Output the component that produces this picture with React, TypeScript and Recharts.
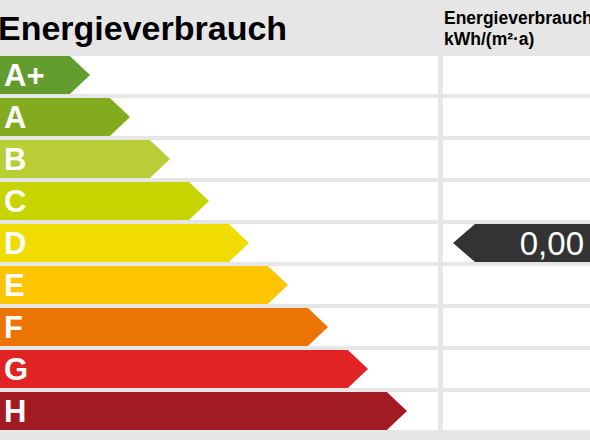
import { BarChart, Bar, XAxis, YAxis, LabelList, ReferenceArea, Customized } from 'recharts';

const classes = ['A+', 'A', 'B', 'C', 'D', 'E', 'F', 'G', 'H'];
const arrowEnds = [90, 130, 170, 209, 249, 288, 328, 368, 407];
const classColors = ['#629b2e', '#82ab1f', '#b8cd36', '#c8d400', '#f0dc00', '#fdc500', '#ec7405', '#e22323', '#a21b23'];
const currentClass = 'D';
const currentValue = '0,00';
const title = 'Energieverbrauch';
const valueHeader = ['Energieverbrauch', 'kWh/(m²·a)'];

const data = classes.map((label, i) => ({ label, end: arrowEnds[i], color: classColors[i] }));

const FONT = '"Liberation Sans", Arial, sans-serif';
const W = 590;
const H = 440;
const BAR = 38;
const COL_SPLIT = 438;
const COL_GAP = 5;
const MARKER_X = 453;

const ClassArrow = (props: any) => {
  const { x, y, width, height, payload } = props;
  const tip = height * 0.53;
  const pts = [
    [x, y],
    [x + width - tip, y],
    [x + width, y + height / 2],
    [x + width - tip, y + height],
    [x, y + height],
  ].map((p) => p.join(',')).join(' ');
  return <polygon points={pts} fill={payload.color} />;
};

const RowCells = (props: any) => {
  const { x, y, width, height } = props;
  return (
    <g>
      <rect x={x} y={y} width={COL_SPLIT - x} height={height} fill="#ffffff" />
      <rect x={COL_SPLIT + COL_GAP} y={y} width={x + width - COL_SPLIT - COL_GAP} height={height} fill="#ffffff" />
    </g>
  );
};

const Marker = (props: any) => {
  const { x, y, width, height } = props;
  const inset = (height - BAR) / 2;
  const top = y + inset;
  const h = BAR;
  const tip = 22;
  const pts = [
    [x, top + h / 2],
    [x + tip, top],
    [x + width, top],
    [x + width, top + h],
    [x + tip, top + h],
  ].map((p) => p.join(',')).join(' ');
  return (
    <g>
      <polygon points={pts} fill="#333333" />
      <text x={x + width - 6} y={top + h / 2 + 12} textAnchor="end" fill="#ffffff" fontSize={33} fontFamily={FONT}>
        {currentValue}
      </text>
    </g>
  );
};

const Header = () => (
  <g fontFamily={FONT} fontWeight="bold" fill="#000000">
    <text x={-2} y={40} fontSize={34}>{title}</text>
    <text x={444} y={24} fontSize={17.5}>{valueHeader[0]}</text>
    <text x={444} y={45} fontSize={17.5}>{valueHeader[1]}</text>
  </g>
);

export default function App() {
  return (
    <div style={{ position: 'absolute', left: 0, top: 0, width: W, height: H, background: '#e6e6e6' }}>
      <BarChart
        width={W}
        height={H}
        data={data}
        layout="vertical"
        margin={{ top: 54, right: 0, bottom: 8, left: 0 }}
      >
        <XAxis type="number" domain={[0, W]} hide />
        <YAxis type="category" dataKey="label" hide />
        <Bar
          dataKey="end"
          barSize={BAR}
          isAnimationActive={false}
          background={<RowCells />}
          shape={<ClassArrow />}
        >
          <LabelList
            dataKey="label"
            position="insideLeft"
            offset={4}
            fill="#ffffff"
            fontSize={31}
            fontWeight="bold"
            fontFamily={FONT}
          />
        </Bar>
        <ReferenceArea
          x1={MARKER_X}
          x2={W}
          y1={currentClass}
          y2={currentClass}
          ifOverflow="visible"
          shape={<Marker />}
        />
        <Customized component={Header} />
      </BarChart>
    </div>
  );
}
